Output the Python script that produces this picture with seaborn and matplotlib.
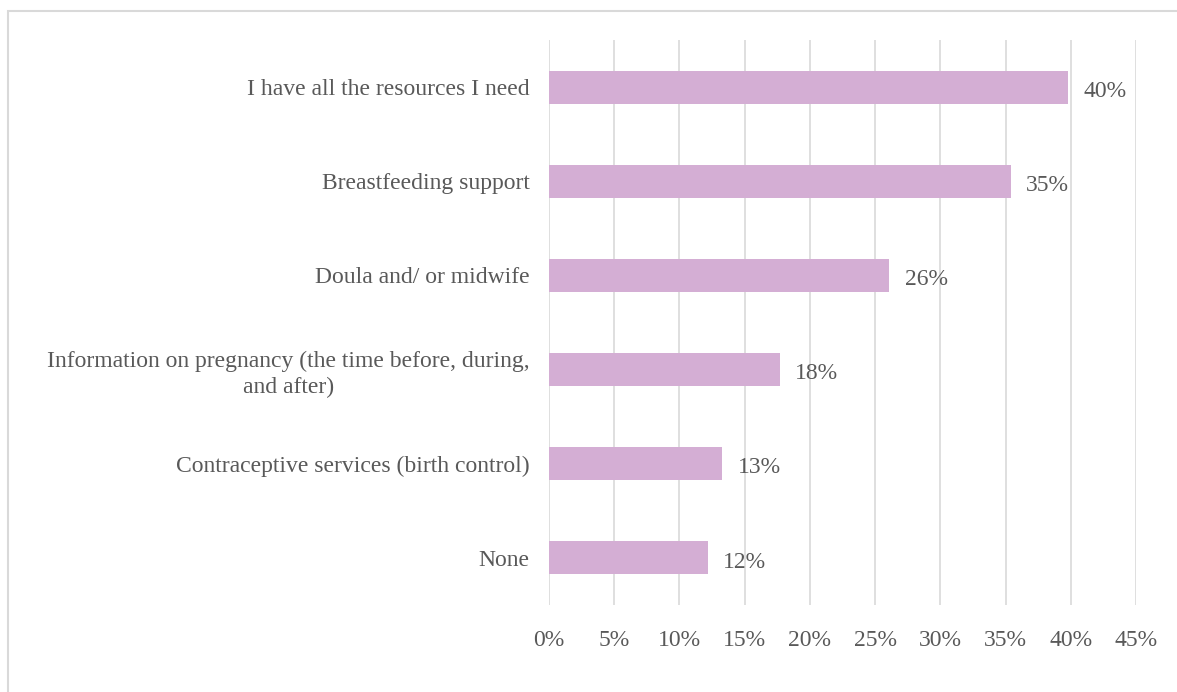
import matplotlib
matplotlib.use("Agg")
import matplotlib.pyplot as plt
import seaborn as sns
import pandas as pd
from matplotlib.patches import Rectangle
from matplotlib.ticker import FuncFormatter

categories = [
    "I have all the resources I need",
    "Breastfeeding support",
    "Doula and/ or midwife",
    "Information on pregnancy (the time before, during,\nand after)",
    "Contraceptive services (birth control)",
    "None",
]
shares = [0.398, 0.354, 0.261, 0.177, 0.133, 0.122]
x_ticks = [0.00, 0.05, 0.10, 0.15, 0.20, 0.25, 0.30, 0.35, 0.40, 0.45]

df = pd.DataFrame({"resource": categories, "share": shares})

sns.set_theme(style="white")
plt.rcParams["font.family"] = ["Liberation Serif", "DejaVu Serif"]

text_color = "#595959"
grid_color = "#D9D9D9"
bar_color = "#D4AED4"
fs = 17

fig = plt.figure(figsize=(11.77, 6.92), dpi=100)
ax = fig.add_axes([549 / 1177, 1 - 605 / 692, (1136 - 549) / 1177, (605 - 40) / 692])

sns.barplot(data=df, x="share", y="resource", orient="h", color=bar_color,
            width=0.35, saturation=1, ax=ax, edgecolor="none")

ax.set_xlim(0, 0.45)
ax.set_ylim(5.5, -0.5)
ax.set_xticks(x_ticks)
ax.xaxis.set_major_formatter(FuncFormatter(lambda v, _: f"{v * 100:.0f}%"))
ax.grid(axis="x", color=grid_color, linewidth=1.2)
ax.set_axisbelow(True)
for s in ax.spines.values():
    s.set_visible(False)
ax.set_xlabel("")
ax.set_ylabel("")
ax.tick_params(axis="x", length=0, pad=18, labelsize=fs, labelcolor=text_color)
ax.tick_params(axis="y", length=0, pad=14, labelsize=fs, labelcolor=text_color)
for lbl in ax.get_yticklabels():
    lbl.set_horizontalalignment("right")
    lbl.set_multialignment("center")
    lbl.set_linespacing(1.3)

for i, v in enumerate(shares):
    ax.annotate(f"{v * 100:.0f}%", xy=(v, i), xytext=(11, -3), textcoords="offset points",
                va="center", ha="left", fontsize=fs, color=text_color)

# light frame around the chart area
fig.patches.append(Rectangle((8 / 1177, -0.1), 1.2, 1 - 11 / 692 + 0.1,
                             transform=fig.transFigure, fill=False,
                             edgecolor=grid_color, linewidth=1.5))

fig.savefig("out.png", dpi=100)
